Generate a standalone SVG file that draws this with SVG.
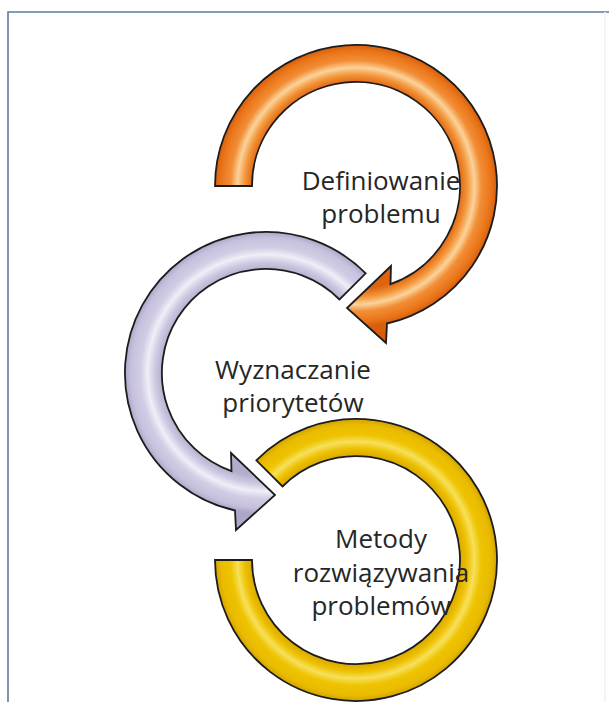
<svg xmlns="http://www.w3.org/2000/svg" width="609" height="702" viewBox="0 0 609 702">
  <defs>
    <radialGradient id="gOrange" gradientUnits="userSpaceOnUse" cx="356" cy="186" r="141">
      <stop offset="0.73" stop-color="#DE630F"/>
      <stop offset="0.79" stop-color="#F3963A"/>
      <stop offset="0.84" stop-color="#FBD39A"/>
      <stop offset="0.89" stop-color="#F28E36"/>
      <stop offset="0.96" stop-color="#EA7418"/>
      <stop offset="1" stop-color="#D65E0C"/>
    </radialGradient>
    <radialGradient id="gPurple" gradientUnits="userSpaceOnUse" cx="266" cy="373" r="141">
      <stop offset="0.73" stop-color="#B3ACCC"/>
      <stop offset="0.79" stop-color="#CFCAE3"/>
      <stop offset="0.84" stop-color="#F0EEF7"/>
      <stop offset="0.89" stop-color="#D2CDE5"/>
      <stop offset="0.96" stop-color="#C6C0DC"/>
      <stop offset="1" stop-color="#ADA6C8"/>
    </radialGradient>
    <radialGradient id="gYellow" gradientUnits="userSpaceOnUse" cx="356" cy="560" r="141">
      <stop offset="0.73" stop-color="#D8A600"/>
      <stop offset="0.79" stop-color="#EDC000"/>
      <stop offset="0.84" stop-color="#F7E05A"/>
      <stop offset="0.89" stop-color="#EEC300"/>
      <stop offset="0.96" stop-color="#E9BB00"/>
      <stop offset="1" stop-color="#D3A200"/>
    </radialGradient>
  </defs>
  <style>
    .ring { stroke: #1c1c1c; stroke-width: 1.8; stroke-linejoin: miter; }
    .lbl { font-family: "Open Sans", "Noto Sans", sans-serif; font-size: 26px; fill: #262626; text-anchor: middle; }
    .frame { stroke: #5E7C9E; stroke-width: 1.6; fill: none; }
  </style>
  <rect width="609" height="702" fill="#ffffff"/>
  <g id="frame">
    <path class="frame" d="M8,702 L8,12 L609,12"/>
    <line x1="605" y1="12" x2="605" y2="702" stroke="#EEF2F6" stroke-width="1.5"/>
  </g>
  <g id="connectors"></g>
  <g id="node-definiowanie">
    <path class="ring" fill="url(#gOrange)" d="M215,186 A141,141 0 1 1 387,323.5 L386,343 L347,308 L391,266 L390.5,284.1 A104,104 0 1 0 252,186 Z"/>
    <text class="lbl" x="381" y="190">Definiowanie<tspan x="381" y="223">problemu</tspan></text>
  </g>
  <g id="node-wyznaczanie">
    <path class="ring" fill="url(#gPurple)" d="M365.7,273.3 A141,141 0 1 0 235,510.5 L236,530 L275,495 L231,453 L231.5,471.1 A104,104 0 1 1 339.5,299.5 Z"/>
    <text class="lbl" x="293" y="379">Wyznaczanie<tspan x="293" y="412">priorytetów</tspan></text>
  </g>
  <g id="node-metody">
    <path class="ring" fill="url(#gYellow)" d="M256.3,460.3 A141,141 0 1 1 215,560 L252,560 A104,104 0 1 0 282.5,486.5 Z"/>
    <text class="lbl" x="381" y="548">Metody<tspan x="381" y="582">rozwiązywania</tspan><tspan x="381" y="615">problemów</tspan></text>
  </g>
</svg>
